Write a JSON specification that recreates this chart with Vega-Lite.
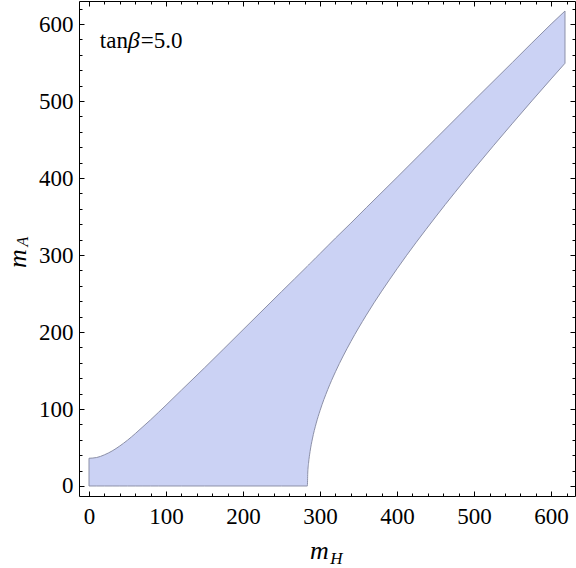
{
  "$schema": "https://vega.github.io/schema/vega-lite/v6.json",
  "width": 496,
  "height": 495,
  "autosize": "none",
  "padding": {"left": 79, "top": 1, "right": 1, "bottom": 72},
  "background": "white",
  "config": {
    "view": {"stroke": "black", "strokeWidth": 1},
    "axis": {"grid": false, "domain": false, "labelFont": "Liberation Serif", "labelFontSize": 23, "labelColor": "black", "tickColor": "black", "tickWidth": 1, "titleFont": "Liberation Serif", "titleFontWeight": "normal", "titleColor": "black", "titleFontStyle": "italic"}
  },
  "data": {"values": [
    {"mH": 0, "lo": 0, "hi": 36},
    {"mH": 10, "lo": 0, "hi": 37},
    {"mH": 20, "lo": 0, "hi": 40.5},
    {"mH": 30, "lo": 0, "hi": 45.5},
    {"mH": 40, "lo": 0, "hi": 52},
    {"mH": 50, "lo": 0, "hi": 59.5},
    {"mH": 60, "lo": 0, "hi": 68},
    {"mH": 70, "lo": 0, "hi": 77},
    {"mH": 80, "lo": 0, "hi": 86},
    {"mH": 90, "lo": 0, "hi": 95.5},
    {"mH": 100, "lo": 0, "hi": 105},
    {"mH": 120, "lo": 0, "hi": 124.5},
    {"mH": 150, "lo": 0, "hi": 153.5},
    {"mH": 200, "lo": 0, "hi": 203},
    {"mH": 250, "lo": 0, "hi": 252.5},
    {"mH": 283.5, "lo": 0, "hi": 285.5},
    {"mH": 284, "lo": 16.8, "hi": 286},
    {"mH": 285, "lo": 29.2, "hi": 287},
    {"mH": 287, "lo": 44.7, "hi": 289},
    {"mH": 290, "lo": 61.1, "hi": 292},
    {"mH": 295, "lo": 81.6, "hi": 297},
    {"mH": 300, "lo": 98.1, "hi": 302},
    {"mH": 310, "lo": 125.4, "hi": 312},
    {"mH": 320, "lo": 148.4, "hi": 322},
    {"mH": 340, "lo": 187.7, "hi": 341.5},
    {"mH": 360, "lo": 221.9, "hi": 361.5},
    {"mH": 400, "lo": 282.2, "hi": 401},
    {"mH": 450, "lo": 349.5, "hi": 451},
    {"mH": 500, "lo": 411.9, "hi": 501},
    {"mH": 550, "lo": 471.3, "hi": 550.5},
    {"mH": 600, "lo": 528.8, "hi": 600},
    {"mH": 618, "lo": 549.1, "hi": 617}
  ]},
  "resolve": {"axis": {"x": "independent", "y": "independent"}},
  "layer": [
    {
      "mark": {"type": "area", "fill": "#cbd2f4", "fillOpacity": 1, "stroke": "#8c90a8", "strokeWidth": 1, "orient": "vertical", "interpolate": "monotone"},
      "encoding": {
        "x": {"field": "mH", "type": "quantitative", "scale": {"domain": [-13, 631], "nice": false, "zero": false},
              "axis": {"orient": "bottom", "values": [0, 100, 200, 300, 400, 500, 600], "ticks": false, "labelPadding": 9,
                       "title": "m", "titleFontSize": 26, "titleX": 240, "titleY": 62, "titleAlign": "center", "titleBaseline": "alphabetic"}},
        "y": {"field": "hi", "type": "quantitative", "scale": {"domain": [-13, 630], "nice": false, "zero": false},
              "axis": {"orient": "left", "values": [0, 100, 200, 300, 400, 500, 600], "ticks": false, "labelPadding": 6,
                       "title": "m", "titleFontSize": 26, "titleAngle": -90, "titleX": -54, "titleY": 257, "titleAlign": "center", "titleBaseline": "alphabetic"}},
        "y2": {"field": "lo"}
      }
    },
    {
      "mark": {"type": "point", "opacity": 0},
      "encoding": {
        "x": {"field": "mH", "type": "quantitative", "scale": {"domain": [-13, 631], "nice": false, "zero": false},
              "axis": {"orient": "bottom", "values": [0, 100, 200, 300, 400, 500, 600], "labels": false, "tickSize": -5,
                       "title": "H", "titleFontSize": 17, "titleX": 257, "titleY": 67, "titleAlign": "center", "titleBaseline": "alphabetic"}},
        "y": {"field": "hi", "type": "quantitative", "scale": {"domain": [-13, 630], "nice": false, "zero": false},
              "axis": {"orient": "left", "values": [0, 100, 200, 300, 400, 500, 600], "labels": false, "tickSize": -5,
                       "title": "A", "titleFontSize": 16, "titleAngle": -90, "titleX": -52, "titleY": 240, "titleAlign": "center", "titleBaseline": "alphabetic"}}
      }
    },
    {
      "mark": {"type": "point", "opacity": 0},
      "encoding": {
        "x": {"field": "mH", "type": "quantitative", "scale": {"domain": [-13, 631], "nice": false, "zero": false},
              "axis": {"orient": "bottom", "values": [20, 40, 60, 80, 120, 140, 160, 180, 220, 240, 260, 280, 320, 340, 360, 380, 420, 440, 460, 480, 520, 540, 560, 580, 620], "labels": false, "tickSize": -3, "title": null}},
        "y": {"field": "hi", "type": "quantitative", "scale": {"domain": [-13, 630], "nice": false, "zero": false},
              "axis": {"orient": "left", "values": [20, 40, 60, 80, 120, 140, 160, 180, 220, 240, 260, 280, 320, 340, 360, 380, 420, 440, 460, 480, 520, 540, 560, 580, 620], "labels": false, "tickSize": -3, "title": null}}
      }
    },
    {
      "mark": {"type": "point", "opacity": 0},
      "encoding": {
        "x": {"field": "mH", "type": "quantitative", "scale": {"domain": [-13, 631], "nice": false, "zero": false},
              "axis": {"orient": "top", "values": [0, 100, 200, 300, 400, 500, 600], "labels": false, "tickSize": -5, "title": null}},
        "y": {"field": "hi", "type": "quantitative", "scale": {"domain": [-13, 630], "nice": false, "zero": false},
              "axis": {"orient": "right", "values": [0, 100, 200, 300, 400, 500, 600], "labels": false, "tickSize": -5, "title": null}}
      }
    },
    {
      "mark": {"type": "point", "opacity": 0},
      "encoding": {
        "x": {"field": "mH", "type": "quantitative", "scale": {"domain": [-13, 631], "nice": false, "zero": false},
              "axis": {"orient": "top", "values": [20, 40, 60, 80, 120, 140, 160, 180, 220, 240, 260, 280, 320, 340, 360, 380, 420, 440, 460, 480, 520, 540, 560, 580, 620], "labels": false, "tickSize": -3, "title": null}},
        "y": {"field": "hi", "type": "quantitative", "scale": {"domain": [-13, 630], "nice": false, "zero": false},
              "axis": {"orient": "right", "values": [20, 40, 60, 80, 120, 140, 160, 180, 220, 240, 260, 280, 320, 340, 360, 380, 420, 440, 460, 480, 520, 540, 560, 580, 620], "labels": false, "tickSize": -3, "title": null}}
      }
    },
    {
      "data": {"values": [{"tx": 14, "ty": 569, "p1": "tan", "p2": "β", "p3": "=5.0"}]},
      "encoding": {
        "x": {"field": "tx", "type": "quantitative", "scale": {"domain": [-13, 631], "nice": false, "zero": false}, "axis": null},
        "y": {"field": "ty", "type": "quantitative", "scale": {"domain": [-13, 630], "nice": false, "zero": false}, "axis": null}
      },
      "layer": [
        {"mark": {"type": "text", "font": "Liberation Serif", "fontSize": 23, "align": "left", "baseline": "alphabetic", "color": "black"},
         "encoding": {"text": {"field": "p1"}}},
        {"mark": {"type": "text", "font": "Liberation Serif", "fontSize": 24, "fontStyle": "italic", "align": "left", "baseline": "alphabetic", "color": "black", "dx": 28},
         "encoding": {"text": {"field": "p2"}}},
        {"mark": {"type": "text", "font": "Liberation Serif", "fontSize": 23, "align": "left", "baseline": "alphabetic", "color": "black", "dx": 41},
         "encoding": {"text": {"field": "p3"}}}
      ]
    }
  ]
}
